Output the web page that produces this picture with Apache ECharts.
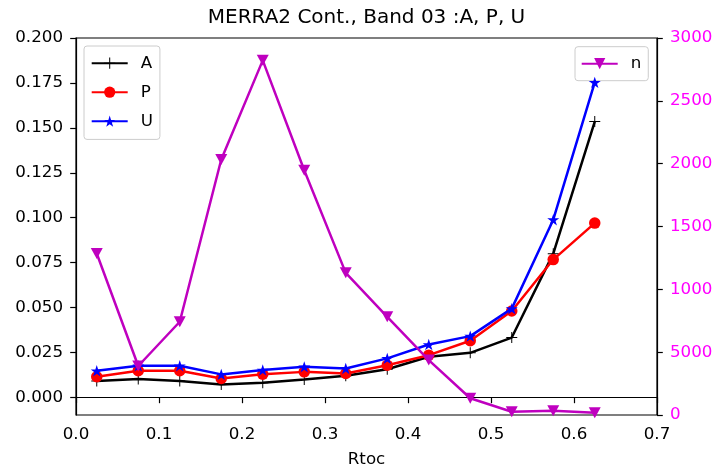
<!DOCTYPE html>
<html>
<head>
<meta charset="utf-8">
<script src="https://cdn.jsdelivr.net/npm/echarts@6/dist/echarts.min.js"></script>
<style>html,body{margin:0;padding:0;background:#fff}#c{width:713px;height:468px}</style>
</head>
<body>
<div id="c"></div>
<script>
const xValues = [0.025,0.075,0.125,0.175,0.225,0.275,0.325,0.375,0.425,0.475,0.525,0.575,0.625];
const seriesA = [0.0091,0.0102,0.0091,0.0072,0.0081,0.0100,0.0120,0.0157,0.0226,0.0248,0.0333,0.0800,0.1535];
const seriesP = [0.0115,0.0148,0.0148,0.0105,0.0129,0.0142,0.0133,0.0179,0.0235,0.0315,0.0481,0.0767,0.0970];
const seriesU = [0.0148,0.0176,0.0176,0.0128,0.0152,0.0170,0.0161,0.0217,0.0294,0.0341,0.0494,0.0989,0.1753];
const seriesN = [1285,390,742,2033,2822,1948,1131,781,437,133,26,34,18];
const xTickLabels = ['0.0','0.1','0.2','0.3','0.4','0.5','0.6','0.7'];
const leftTicks = [0,0.025,0.05,0.075,0.1,0.125,0.15,0.175,0.2];
const leftTickLabels = ['0.000','0.025','0.050','0.075','0.100','0.125','0.150','0.175','0.200'];
const rightTickLabels = ['0','5000','1000','1500','2000','2500','3000'];

const pair = arr => arr.map((v,i)=>[xValues[i], v]);
const PLUS = 'path://M-0.09,-1 L0.09,-1 L0.09,-0.09 L1,-0.09 L1,0.09 L0.09,0.09 L0.09,1 L-0.09,1 L-0.09,0.09 L-1,0.09 L-1,-0.09 L-0.09,-0.09 Z';
const STAR = 'path://M0,-1 L0.2245,-0.309 L0.951,-0.309 L0.3633,0.118 L0.588,0.809 L0,0.382 L-0.588,0.809 L-0.3633,0.118 L-0.951,-0.309 L-0.2245,-0.309 Z';
const FONT = 'DejaVu Sans';
const chart = echarts.init(document.getElementById('c'), null, {renderer:'canvas'});
const legendCommon = {
  orient:'vertical', itemWidth:36, itemHeight:14, itemGap:12,
  backgroundColor:'rgba(255,255,255,0.8)', borderColor:'#cccccc', borderWidth:1, borderRadius:3,
  textStyle:{fontFamily:FONT, fontSize:16.7, color:'#000', lineHeight:14, padding:[0,0,0,8]}
};
chart.setOption({
  animation:false,
  textStyle:{fontFamily:FONT},
  title:{text:'MERRA2 Cont., Band 03 :A, P, U', left:366.5, textAlign:'center', top:8, padding:0,
    textStyle:{fontFamily:FONT, fontSize:20, fontWeight:'normal', color:'#000'}},
  grid:{left:76, top:38, width:581, height:377, show:true, borderColor:'#000', borderWidth:1.2,
    backgroundColor:'transparent', outerBoundsMode:'none', containLabel:false},
  legend:[
    Object.assign({}, legendCommon, {data:['A','P','U'], left:84, top:46, padding:[8.7,7,9.7,6.7]}),
    Object.assign({}, legendCommon, {data:['n'], left:575, top:46.7, padding:[8.5,7,8.5,5.7]})
  ],
  xAxis:{type:'value', min:0, max:0.7, interval:0.1,
    name:'Rtoc', nameLocation:'middle', nameGap:36,
    nameTextStyle:{fontFamily:FONT, fontSize:16.7, color:'#000'},
    axisLine:{show:true, lineStyle:{color:'#000', width:1.2}},
    axisTick:{show:true, inside:false, length:5.8, lineStyle:{color:'#000', width:1.2}},
    axisLabel:{fontFamily:FONT, fontSize:16.7, color:'#000', margin:11,
      formatter:v=>xTickLabels[Math.round(v/0.1)]},
    splitLine:{show:false}},
  yAxis:[
    {type:'value', min:-0.0098, max:0.2, position:'left',
      axisLine:{show:true, lineStyle:{color:'#000', width:1.2}},
      axisTick:{show:true, length:5.8, customValues:leftTicks, lineStyle:{color:'#000', width:1.2}},
      axisLabel:{fontFamily:FONT, fontSize:16.7, color:'#000', margin:13, customValues:leftTicks,
        formatter:v=>{const i=leftTicks.findIndex(t=>Math.abs(t-v)<1e-9); return i>=0?leftTickLabels[i]:'';}},
      splitLine:{show:false}},
    {type:'value', min:0, max:3000, interval:500, position:'right',
      axisLine:{show:true, lineStyle:{color:'#000', width:1.2}},
      axisTick:{show:true, length:5.8, lineStyle:{color:'#000', width:1.2}},
      axisLabel:{fontFamily:FONT, fontSize:16.7, color:'#ff00ff', margin:13,
        formatter:v=>rightTickLabels[Math.round(v/500)]},
      splitLine:{show:false}}
  ],
  series:[
    {name:'A', type:'line', yAxisIndex:0, data:pair(seriesA), symbol:PLUS, symbolSize:11,
      lineStyle:{color:'#000', width:2.5}, itemStyle:{color:'#000'}, z:2},
    {name:'P', type:'line', yAxisIndex:0, data:pair(seriesP), symbol:'circle', symbolSize:11.5,
      lineStyle:{color:'#ff0000', width:2.5}, itemStyle:{color:'#ff0000'}, z:3},
    {name:'U', type:'line', yAxisIndex:0, data:pair(seriesU), symbol:STAR, symbolSize:12, symbolKeepAspect:true,
      lineStyle:{color:'#0000ff', width:2.5}, itemStyle:{color:'#0000ff'}, z:4},
    {name:'n', type:'line', yAxisIndex:1, data:pair(seriesN), symbol:'triangle', symbolRotate:180, symbolSize:[12,11],
      lineStyle:{color:'#bf00bf', width:2.5}, itemStyle:{color:'#bf00bf'}, z:5}
  ]
});
</script>
</body>
</html>
